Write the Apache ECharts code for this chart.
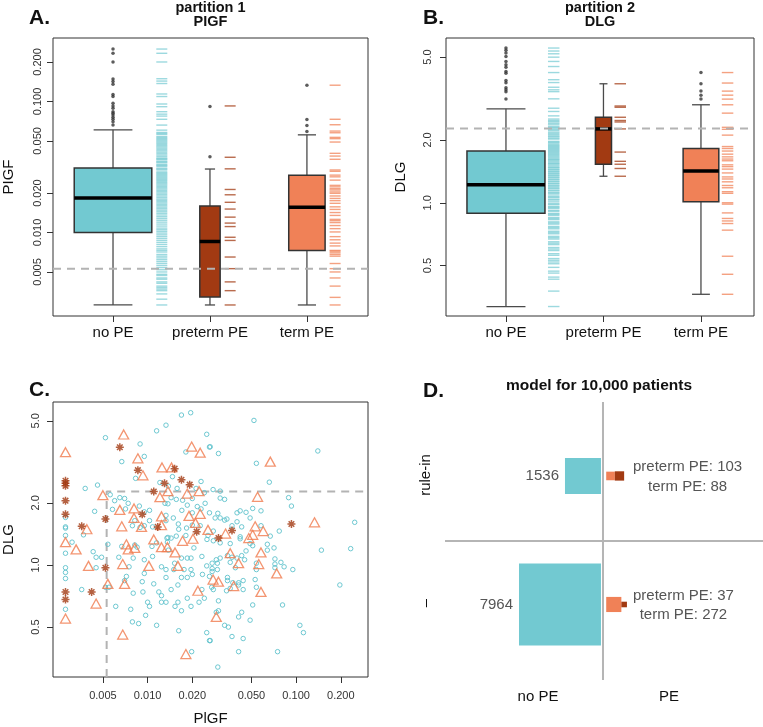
<!DOCTYPE html>
<html><head><meta charset="utf-8">
<script src="https://cdn.jsdelivr.net/npm/echarts@6/dist/echarts.min.js"></script>
<style>html,body{margin:0;padding:0;background:#fff}#c{width:763px;height:727px}</style>
</head><body><div id="c"></div>
<script>
// ---------------- data ----------------
const groups = ['no PE', 'preterm PE', 'term PE'];
const pigfTicks = [0.005, 0.010, 0.020, 0.050, 0.100, 0.200];
const dlgTicks = [0.5, 1.0, 2.0, 5.0];
const pigfCutoff = 0.0053;
const dlgCutoff = 2.27;

// box statistics [min, Q1, median, Q3, max] per group
const pigfBox = [
  [0.0028, 0.0100, 0.0183, 0.0310, 0.0607],
  [0.0028, 0.00322, 0.00854, 0.0159, 0.0305],
  [0.0028, 0.00729, 0.0156, 0.0274, 0.0556]
];
const dlgBox = [
  [0.318, 0.89, 1.22, 1.77, 2.82],
  [1.34, 1.53, 2.26, 2.57, 3.72],
  [0.364, 1.01, 1.42, 1.82, 2.95]
];
const pigfOutliers = [
  [0.251, 0.233, 0.200, 0.148, 0.142, 0.135, 0.113, 0.109, 0.0968, 0.0923, 0.0887, 0.0836, 0.0812, 0.0788, 0.0756, 0.0731, 0.070, 0.066],
  [0.0378, 0.0916],
  [0.059, 0.0656, 0.0729, 0.133]
];
const dlgOutliers = [
  [5.52, 5.38, 5.23, 5.03, 4.76, 4.59, 4.47, 4.26, 4.18, 3.86, 3.76, 3.56, 3.48, 3.41, 3.14],
  [],
  [3.14, 3.28, 3.43, 3.72, 4.21]
];
const pigfRug = [
  [0.251, 0.233, 0.200, 0.149, 0.143, 0.137, 0.114, 0.109, 0.0956, 0.0912, 0.0835, 0.080, 0.0773, 0.0731, 0.066, 0.0604,
   0.058, 0.057, 0.056, 0.054, 0.053, 0.052, 0.051, 0.050, 0.049, 0.048, 0.047, 0.046, 0.045, 0.044, 0.043, 0.042, 0.041,
   0.040, 0.039, 0.038, 0.037, 0.0365, 0.036, 0.035, 0.0345, 0.034, 0.033, 0.0325, 0.032, 0.031, 0.0305, 0.030, 0.029,
   0.0285, 0.028, 0.0275, 0.027, 0.0265, 0.026, 0.0255, 0.025, 0.0245, 0.024, 0.0235, 0.023, 0.0225, 0.022, 0.0215, 0.021,
   0.0205, 0.020, 0.0195, 0.019, 0.0185, 0.018, 0.0176, 0.0172, 0.0168, 0.0164, 0.016, 0.0156, 0.0152, 0.0148, 0.0144,
   0.014, 0.0136, 0.0132, 0.0128, 0.0124, 0.012, 0.0116, 0.0112, 0.0108, 0.0105, 0.0102, 0.0099, 0.0096, 0.0093, 0.009,
   0.0087, 0.0084, 0.0081, 0.0078, 0.0075, 0.0073, 0.0071, 0.0068, 0.0066, 0.0064, 0.0062, 0.006, 0.0058, 0.0056, 0.0054,
   0.0052, 0.0050, 0.0048, 0.0047, 0.0045, 0.0044, 0.0042, 0.0041, 0.0039, 0.0038, 0.0037, 0.0036, 0.0034, 0.0031, 0.0028],
  [0.0924, 0.0375, 0.0306, 0.0213, 0.0194, 0.0170, 0.0151, 0.0131, 0.0118, 0.0111, 0.0092, 0.0087, 0.0065, 0.0053, 0.0042, 0.0036, 0.0028],
  [0.133, 0.0731, 0.0664, 0.0594, 0.0577, 0.0532, 0.0520, 0.0490, 0.0402, 0.0383, 0.0362, 0.0300, 0.0293, 0.0274, 0.0266,
   0.0251, 0.0229, 0.0223, 0.0216, 0.0211, 0.0204, 0.0199, 0.0190, 0.0182, 0.0175, 0.0167, 0.0157, 0.0150, 0.0142, 0.0135,
   0.0126, 0.0123, 0.0119, 0.0113, 0.0107, 0.0101, 0.0093, 0.0088, 0.0083, 0.0079, 0.0073, 0.0072, 0.0070, 0.0068, 0.0066,
   0.0058, 0.0053, 0.0050, 0.0045, 0.0039, 0.0032, 0.0028]
];
const dlgRug = [
  [5.52, 5.34, 5.18, 4.99, 4.76, 4.50, 4.21, 3.89, 3.77, 3.58, 3.48, 3.41, 3.15, 2.84, 2.74, 2.61, 2.52, 2.48, 2.45, 2.41,
   2.38, 2.33, 2.30, 2.28, 2.25, 2.22, 2.18, 2.15, 2.12, 2.09, 2.07, 2.04, 2.02, 1.97, 1.95, 1.93, 1.90, 1.88, 1.86, 1.84,
   1.82, 1.80, 1.78, 1.76, 1.74, 1.72, 1.70, 1.68, 1.66, 1.64, 1.62, 1.61, 1.59, 1.57, 1.55, 1.54, 1.52, 1.50, 1.48, 1.47,
   1.45, 1.44, 1.42, 1.41, 1.39, 1.38, 1.36, 1.35, 1.33, 1.32, 1.30, 1.29, 1.27, 1.26, 1.24, 1.23, 1.21, 1.20, 1.18, 1.17,
   1.15, 1.14, 1.12, 1.11, 1.09, 1.07, 1.06, 1.04, 1.03, 1.01, 0.99, 0.98, 0.96, 0.95, 0.94, 0.92, 0.91, 0.89, 0.88, 0.87,
   0.85, 0.84, 0.83, 0.81, 0.80, 0.79, 0.77, 0.76, 0.75, 0.73, 0.72, 0.71, 0.69, 0.68, 0.67, 0.65, 0.64, 0.63, 0.61, 0.60,
   0.59, 0.57, 0.56, 0.54, 0.53, 0.52, 0.51, 0.49, 0.47, 0.46, 0.44, 0.43, 0.377, 0.318],
  [3.72, 2.91, 2.87, 2.57, 2.48, 2.44, 2.26, 1.75, 1.58, 1.53, 1.46, 1.34],
  [4.21, 3.75, 3.43, 3.28, 3.14, 2.95, 2.69, 2.30, 2.25, 2.11, 1.86, 1.82, 1.77, 1.71, 1.66, 1.62, 1.59, 1.52, 1.49, 1.45,
   1.39, 1.33, 1.30, 1.26, 1.21, 1.18, 1.13, 1.11, 1.00, 0.985, 0.894, 0.841, 0.818, 0.795, 0.739, 0.554, 0.454, 0.364]
];

// scatter [PlGF, DLG]
const noPePts = [
[0.0169,5.33],[0.0195,5.47],[0.0133,4.76],[0.0115,4.47],[0.0052,4.14],[0.0250,4.30],[0.0089,3.86],[0.0181,3.53],[0.0261,3.73],[0.0095,3.36],[0.0067,3.17],[0.0083,2.63],[0.0229,2.54],[0.0038,2.35],[0.0046,2.44],[0.0121,2.51],[0.0147,2.68],[0.0158,2.35],[0.0138,2.41],[0.0212,2.35],[0.0241,2.24],[0.0056,2.19],[0.0060,2.05],[0.0065,2.12],[0.0070,2.10],[0.0074,1.99],[0.0044,1.82],[0.0058,1.86],[0.0071,1.87],[0.0088,1.93],[0.0103,1.84],[0.0095,1.81],[0.0131,1.99],[0.0144,2.12],[0.0137,1.98],[0.0156,2.08],[0.0172,2.06],[0.0200,2.10],[0.0185,1.95],[0.0216,1.92],[0.0244,1.99],[0.0170,1.84],[0.0149,1.69],[0.0133,1.74],[0.0200,1.79],[0.0229,1.87],[0.0261,1.79],[0.0028,1.53],[0.0028,1.39],[0.0037,1.40],[0.0079,1.55],[0.0089,1.52],[0.0095,1.55],[0.0108,1.53],[0.0103,1.64],[0.0133,1.64],[0.0161,1.58],[0.0162,1.49],[0.0183,1.51],[0.0200,1.56],[0.0226,1.55],[0.0181,1.39],[0.0156,1.38],[0.0137,1.36],[0.0255,1.39],[0.0082,1.64],
[0.052,5.02],[0.0264,3.74],[0.030,3.47],[0.140,3.57],[0.054,3.11],[0.066,2.52],[0.0276,2.32],[0.0308,2.28],[0.089,2.12],[0.093,1.93],[0.0308,2.11],[0.0330,2.08],[0.0297,1.78],[0.040,1.79],[0.042,1.83],[0.046,1.80],[0.051,1.88],[0.058,1.83],[0.049,1.69],[0.0285,1.69],[0.0308,1.69],[0.0342,1.67],[0.0330,1.65],[0.040,1.62],[0.037,1.55],[0.043,1.53],[0.058,1.55],[0.077,1.46],[0.248,1.61],[0.0277,1.46],[0.042,1.37],[0.067,1.38],
[0.0031,1.29],[0.0028,1.14],[0.0028,0.97],[0.0028,0.92],[0.0028,0.86],[0.0028,0.61],[0.0036,0.76],[0.0043,1.16],[0.0045,1.09],[0.0045,0.97],[0.0049,1.09],[0.0054,1.26],[0.0064,1.09],[0.0067,1.23],[0.0085,1.22],[0.0080,1.08],[0.0075,0.98],[0.0095,1.06],[0.0095,0.91],[0.0108,1.10],[0.0072,0.88],[0.0070,0.84],[0.0052,0.78],[0.0055,0.78],[0.0092,0.83],[0.0110,0.81],[0.0080,0.73],[0.0093,0.74],[0.0119,0.74],[0.0124,0.98],[0.0133,0.95],[0.0133,0.87],[0.0124,0.71],[0.0100,0.66],[0.0103,0.63],[0.0124,0.66],[0.0133,0.66],[0.0144,0.76],[0.0150,0.95],[0.0160,0.80],[0.0169,0.87],[0.0176,0.95],[0.0185,0.87],[0.0196,0.95],[0.0200,0.90],[0.0152,1.02],[0.0160,0.66],[0.0153,0.63],[0.0169,0.60],[0.0185,0.69],[0.0196,0.63],[0.0222,0.66],[0.0241,0.69],[0.0232,0.76],[0.0234,0.90],[0.0250,0.99],[0.0261,0.88],[0.0061,0.63],[0.0077,0.61],[0.0097,0.57],[0.0079,0.53],[0.0087,0.52],[0.0115,0.51],[0.0162,0.48],[0.0250,0.47],[0.0261,0.43],[0.0198,0.38],[0.0138,1.18],[0.0169,1.08],[0.0185,1.08],[0.0196,1.08],[0.0232,1.10],[0.0205,1.21],[0.0251,1.33],[0.0135,1.35],[0.0144,1.35],[0.0136,1.29],[0.0107,1.23],[0.0115,1.28],[0.0082,1.25],
[0.0277,1.31],[0.0308,1.28],[0.036,1.27],[0.042,1.34],[0.049,1.27],[0.051,1.24],[0.064,1.26],[0.064,1.18],[0.071,1.21],[0.046,1.17],[0.043,1.11],[0.0345,1.11],[0.037,1.09],[0.040,1.08],[0.045,1.06],[0.036,1.03],[0.0308,1.08],[0.029,1.06],[0.0295,1.02],[0.0272,1.02],[0.0272,0.96],[0.0295,0.95],[0.0272,0.93],[0.039,0.97],[0.054,1.02],[0.054,0.95],[0.072,1.07],[0.072,1.01],[0.072,0.97],[0.079,1.03],[0.083,0.98],[0.095,0.95],[0.148,1.18],[0.233,1.20],[0.197,0.80],[0.0345,0.87],[0.0345,0.84],[0.0375,0.82],[0.041,0.82],[0.044,0.84],[0.053,0.85],[0.041,0.80],[0.044,0.76],[0.036,0.77],[0.034,0.75],[0.054,0.78],[0.0277,0.76],[0.0270,0.78],[0.030,0.67],[0.030,0.60],[0.029,0.59],[0.051,0.64],[0.081,0.64],[0.043,0.59],[0.041,0.56],[0.049,0.54],[0.033,0.51],[0.035,0.50],[0.106,0.51],[0.112,0.47],[0.037,0.45],[0.044,0.44],[0.0264,0.43],[0.041,0.38],[0.075,0.38],[0.0297,0.32],
[0.0028,1.70],[0.0028,1.51]
];
const termPts = [
[0.0028,3.52],[0.0069,4.29],[0.0086,3.29],[0.0198,3.75],[0.0226,3.50],[0.0125,2.97],[0.0145,2.97],[0.0093,2.72],[0.0137,2.28],[0.0121,2.13],[0.0185,2.22],[0.0222,2.28],[0.0050,2.18],[0.0081,1.88],[0.0065,1.85],[0.0081,1.69],[0.0124,1.72],[0.0190,1.73],[0.0226,1.77],[0.0067,1.54],[0.0091,1.53],[0.0124,1.56],[0.0210,1.60],[0.0255,1.48],[0.0039,1.49],[0.067,3.17],[0.055,2.14],[0.053,1.54],[0.060,1.46],[0.051,1.40],[0.133,1.61],[0.0335,1.42],[0.0028,1.29],[0.0033,1.19],[0.0040,0.99],[0.0072,1.26],[0.0074,1.19],[0.0082,1.21],[0.0110,1.33],[0.0124,1.22],[0.0136,1.22],[0.0153,1.15],[0.0172,1.31],[0.0202,1.34],[0.0068,1.01],[0.0102,0.99],[0.0160,0.99],[0.0054,0.81],[0.0070,0.81],[0.0045,0.65],[0.0028,0.55],[0.0068,0.46],[0.0181,0.37],[0.0218,0.75],[0.048,1.35],[0.058,1.15],[0.036,1.14],[0.041,1.02],[0.056,1.01],[0.074,0.91],[0.0276,0.85],[0.030,0.83],[0.038,0.79],[0.058,0.74],[0.029,0.56]
];
const pretermPts = [
[0.0065,3.72],[0.0086,2.88],[0.0152,2.93],[0.0130,2.49],[0.0169,2.59],[0.0192,2.45],[0.0028,2.56],[0.0028,2.49],[0.0028,2.42],[0.0028,2.05],[0.0028,1.76],[0.0110,2.27],[0.0092,1.76],[0.0052,1.67],[0.0036,1.54],[0.0117,1.53],[0.0214,1.45],[0.093,1.58],[0.037,1.47],[0.030,1.35],[0.0052,0.97],[0.0028,0.74],[0.0028,0.68],[0.0042,0.74]
];

// panel D: model for 10,000 patients (row 0 = rule-in, row 1 = rule-out)
const dRows = ['rule-in', '–'];
const dNoPE = [1536, 7964];
const dPreterm = [103, 37];
const dTerm = [88, 272];

// ---------------- styling ----------------
const L = Math.log10;
const FONT = "'Liberation Sans', Arial, Helvetica, sans-serif";
const colors = ['#72C9D1', '#A23A12', '#F08157'];
const rugOpacity = [0.7, 0.75, 0.75];
const boxWidthA = [0.80, 0.21, 0.375];
const boxWidthB = [0.80, 0.165, 0.366];
const pigfExt = [-2.637, -0.516];
const dlgExt = [-0.543, 0.790];
const xExtA = [0.381, 3.63];
const xExtB = [0.385, 3.544];
const dExtX = [-172, 174.2];
const dExtY = [-151.3, 151.3];
const dRowCenters = [70.8, -69.1];

function makeBox(widths) {
  return function (params, api) {
    const gi = params.dataIndex;
    const x = api.value(0);
    const pMin = api.coord([x, api.value(1)]);
    const pQ1 = api.coord([x, api.value(2)]);
    const pMed = api.coord([x, api.value(3)]);
    const pQ3 = api.coord([x, api.value(4)]);
    const pMax = api.coord([x, api.value(5)]);
    const w = api.size([widths[gi], 0])[0];
    const cx = pMed[0], hw = w / 2, cw = w / 4;
    const ws = { stroke: '#4a4a4a', lineWidth: 1.3 };
    return { type: 'group', children: [
      { type: 'line', shape: { x1: cx, y1: pMax[1], x2: cx, y2: pQ3[1] }, style: ws },
      { type: 'line', shape: { x1: cx, y1: pQ1[1], x2: cx, y2: pMin[1] }, style: ws },
      { type: 'line', shape: { x1: cx - cw, y1: pMax[1], x2: cx + cw, y2: pMax[1] }, style: ws },
      { type: 'line', shape: { x1: cx - cw, y1: pMin[1], x2: cx + cw, y2: pMin[1] }, style: ws },
      { type: 'rect', shape: { x: cx - hw, y: pQ3[1], width: w, height: pQ1[1] - pQ3[1] }, style: { fill: colors[gi], stroke: '#333', lineWidth: 1.5 } },
      { type: 'line', shape: { x1: cx - hw, y1: pMed[1], x2: cx + hw, y2: pMed[1] }, style: { stroke: '#000', lineWidth: 3.5 } }
    ] };
  };
}
function makeRug(widths, gap, len) {
  return function (params, api) {
    const gi = api.value(2);
    const p = api.coord([api.value(0), api.value(1)]);
    const hw = api.size([widths[gi], 0])[0] / 2;
    const x0 = p[0] + hw + gap;
    return { type: 'line', shape: { x1: x0, y1: p[1], x2: x0 + len, y2: p[1] }, style: { stroke: colors[gi], lineWidth: 1.4, opacity: rugOpacity[gi] } };
  };
}
function boxData(stats) { return stats.map((s, i) => [i + 1].concat(s.map(L))); }
function rugData(rugs) { const d = []; rugs.forEach((r, i) => r.forEach(v => d.push([i + 1, L(v), i]))); return d; }
function outData(outs) { const d = []; outs.forEach((r, i) => r.forEach(v => d.push([i + 1, L(v)]))); return d; }

function catXAxis(grid, ext) {
  return { type: 'value', gridIndex: grid, min: ext[0], max: ext[1],
    axisLine: { show: false, onZero: false }, splitLine: { show: false },
    axisTick: { show: true, length: 6, customValues: [1, 2, 3], lineStyle: { color: '#333' } },
    axisLabel: { customValues: [1, 2, 3], formatter: v => groups[Math.round(v) - 1], fontFamily: FONT, fontSize: 15, color: '#111', margin: 9 } };
}
function logAxis(grid, ext, ticks, dec, margin, rot, name, gap) {
  return { type: 'value', gridIndex: grid, min: ext[0], max: ext[1],
    axisLine: { show: false, onZero: false }, splitLine: { show: false },
    axisTick: { show: true, length: 6, customValues: ticks.map(L), lineStyle: { color: '#333' } },
    axisLabel: { customValues: ticks.map(L), rotate: rot, formatter: v => Math.pow(10, v).toFixed(dec), fontFamily: FONT, fontSize: 11, color: '#333', margin: margin },
    name: name, nameLocation: 'middle', nameGap: gap, nameTextStyle: { fontFamily: FONT, fontSize: 15, color: '#111' } };
}

function renderD(params, api) {
  const r = params.dataIndex;
  const yc = dRowCenters[r];
  const s0 = Math.sqrt(api.value(1)), sp = Math.sqrt(api.value(2)), st = Math.sqrt(api.value(3));
  function sq(x0, s, fill) {
    const a = api.coord([x0, yc + s / 2]);
    const b = api.coord([x0 + s, yc - s / 2]);
    return { type: 'rect', shape: { x: a[0], y: a[1], width: b[0] - a[0], height: b[1] - a[1] }, style: { fill: fill } };
  }
  const left = -2.2 - s0;
  const c0 = api.coord([left, yc]);
  const axisPt = api.coord([0, yc]);
  const font = '15px ' + FONT;
  const l1 = 'preterm PE: ' + api.value(2), l2 = 'term PE: ' + api.value(3);
  const ctx = document.createElement('canvas').getContext('2d');
  ctx.font = font;
  const bw = Math.max(ctx.measureText(l1).width, ctx.measureText(l2).width);
  const bx = axisPt[0] + 30 + bw / 2;
  return { type: 'group', children: [
    sq(left, s0, colors[0]),
    sq(3.5, st, colors[2]),
    sq(3.5 + st, sp, colors[1]),
    { type: 'text', style: { text: String(api.value(1)), x: c0[0] - 6, y: c0[1], align: 'right', verticalAlign: 'middle', font: font, fill: '#555' } },
    { type: 'text', style: { text: l1, x: bx, y: axisPt[1] - 9, align: 'center', verticalAlign: 'middle', font: font, fill: '#555' } },
    { type: 'text', style: { text: l2, x: bx, y: axisPt[1] + 10.5, align: 'center', verticalAlign: 'middle', font: font, fill: '#555' } }
  ] };
}

function txt(x, y, text, font, align, extra) {
  return Object.assign({ type: 'text', x: x, y: y, silent: true,
    style: { text: text, font: font, fill: '#111', align: align || 'center', verticalAlign: 'middle' } }, extra || {});
}

const chart = echarts.init(document.getElementById('c'), null, { renderer: 'canvas' });
const dash = { type: [8, 6], color: '#b3b3b3', width: 2 };
const option = {
  animation: false,
  backgroundColor: '#fff',
  grid: [
    { left: 53, top: 38, width: 315, height: 278, show: true, borderColor: '#333', borderWidth: 1, backgroundColor: '#fff' },
    { left: 446, top: 38, width: 308, height: 278, show: true, borderColor: '#333', borderWidth: 1, backgroundColor: '#fff' },
    { left: 52, top: 402, width: 316, height: 277, show: true, borderColor: '#333', borderWidth: 1, backgroundColor: '#fff' },
    { left: 445, top: 402, width: 318, height: 278, show: false }
  ],
  xAxis: [
    catXAxis(0, xExtA),
    catXAxis(1, xExtB),
    logAxis(2, pigfExt, pigfTicks, 3, 13, 0, 'PlGF', 34),
    { type: 'value', gridIndex: 3, min: dExtX[0], max: dExtX[1], show: false }
  ],
  yAxis: [
    logAxis(0, pigfExt, pigfTicks, 3, 9.5, 90, 'PIGF', 37),
    logAxis(1, dlgExt, dlgTicks, 1, 12.5, 90, 'DLG', 38),
    logAxis(2, dlgExt, dlgTicks, 1, 11.5, 90, 'DLG', 37),
    { type: 'value', gridIndex: 3, min: dExtY[0], max: dExtY[1], show: false }
  ],
  series: [
    // Panel A
    { type: 'custom', xAxisIndex: 0, yAxisIndex: 0, data: rugData(pigfRug), encode: { x: 0, y: 1 }, renderItem: makeRug(boxWidthA, 4.5, 11), z: 2, silent: true },
    { type: 'custom', xAxisIndex: 0, yAxisIndex: 0, data: boxData(pigfBox), encode: { x: 0, y: [1, 2, 3, 4, 5] }, renderItem: makeBox(boxWidthA), z: 3, silent: true },
    { type: 'scatter', xAxisIndex: 0, yAxisIndex: 0, data: outData(pigfOutliers), symbol: 'circle', symbolSize: 3.5, itemStyle: { color: '#333' }, z: 4, silent: true },
    { type: 'line', xAxisIndex: 0, yAxisIndex: 0, data: [[xExtA[0], L(pigfCutoff)], [xExtA[1], L(pigfCutoff)]], showSymbol: false, lineStyle: dash, z: 5, silent: true },
    // Panel B
    { type: 'custom', xAxisIndex: 1, yAxisIndex: 1, data: rugData(dlgRug), encode: { x: 0, y: 1 }, renderItem: makeRug(boxWidthB, 3, 11.5), z: 2, silent: true },
    { type: 'custom', xAxisIndex: 1, yAxisIndex: 1, data: boxData(dlgBox), encode: { x: 0, y: [1, 2, 3, 4, 5] }, renderItem: makeBox(boxWidthB), z: 3, silent: true },
    { type: 'scatter', xAxisIndex: 1, yAxisIndex: 1, data: outData(dlgOutliers), symbol: 'circle', symbolSize: 3.5, itemStyle: { color: '#333' }, z: 4, silent: true },
    { type: 'line', xAxisIndex: 1, yAxisIndex: 1, data: [[xExtB[0], L(dlgCutoff)], [xExtB[1], L(dlgCutoff)]], showSymbol: false, lineStyle: dash, z: 5, silent: true },
    // Panel C
    { type: 'line', xAxisIndex: 2, yAxisIndex: 2, data: [[L(pigfCutoff), dlgExt[0]], [L(pigfCutoff), L(dlgCutoff)], [pigfExt[1], L(dlgCutoff)]], showSymbol: false, lineStyle: dash, z: 1, silent: true },
    { type: 'scatter', xAxisIndex: 2, yAxisIndex: 2, data: noPePts.map(p => [L(p[0]), L(p[1])]), symbol: 'circle', symbolSize: 4.5,
      itemStyle: { color: 'rgba(0,0,0,0)', borderColor: '#5FC2CC', borderWidth: 1, opacity: 0.9 }, z: 2, silent: true },
    { type: 'scatter', xAxisIndex: 2, yAxisIndex: 2, data: termPts.map(p => [L(p[0]), L(p[1])]), symbol: 'triangle', symbolSize: [10, 9],
      itemStyle: { color: 'rgba(0,0,0,0)', borderColor: '#F07A4E', borderWidth: 1.3 }, z: 3, silent: true },
    { type: 'scatter', xAxisIndex: 2, yAxisIndex: 2, data: pretermPts.map(p => [L(p[0]), L(p[1])]),
      symbol: 'path://M5,0L5,10M0,5L10,5M1.5,1.5L8.5,8.5M1.5,8.5L8.5,1.5', symbolSize: 8,
      itemStyle: { color: 'rgba(0,0,0,0)', borderColor: '#A23A12', borderWidth: 1.5 }, z: 4, silent: true },
    // Panel D
    { type: 'line', xAxisIndex: 3, yAxisIndex: 3, data: [[dExtX[0], 0], [dExtX[1], 0]], showSymbol: false, lineStyle: { color: '#b5b5b5', width: 2 }, z: 1, silent: true },
    { type: 'line', xAxisIndex: 3, yAxisIndex: 3, data: [[0, dExtY[0]], [0, dExtY[1]]], showSymbol: false, lineStyle: { color: '#b5b5b5', width: 2 }, z: 1, silent: true },
    { type: 'custom', xAxisIndex: 3, yAxisIndex: 3, data: dRows.map((r, i) => [i, dNoPE[i], dPreterm[i], dTerm[i]]), renderItem: renderD, z: 3, silent: true }
  ],
  graphic: [
    txt(29, 18, 'A.', 'bold 21px ' + FONT, 'left'),
    txt(210.5, 8, 'partition 1', 'bold 14.5px ' + FONT),
    txt(210.5, 22, 'PIGF', 'bold 14.5px ' + FONT),
    txt(423, 18, 'B.', 'bold 21px ' + FONT, 'left'),
    txt(600, 8, 'partition 2', 'bold 14.5px ' + FONT),
    txt(600, 22, 'DLG', 'bold 14.5px ' + FONT),
    txt(29, 390, 'C.', 'bold 21px ' + FONT, 'left'),
    txt(423, 391, 'D.', 'bold 21px ' + FONT, 'left'),
    txt(599, 386, 'model for 10,000 patients', 'bold 15.5px ' + FONT),
    txt(426, 475, dRows[0], '15px ' + FONT, 'center', { rotation: Math.PI / 2 }),
    txt(426, 603, dRows[1], '15px ' + FONT, 'center', { rotation: Math.PI / 2 }),
    txt(538, 697, 'no PE', '15px ' + FONT),
    txt(669, 697, 'PE', '15px ' + FONT)
  ]
};
chart.setOption(option);
</script>
</body></html>
